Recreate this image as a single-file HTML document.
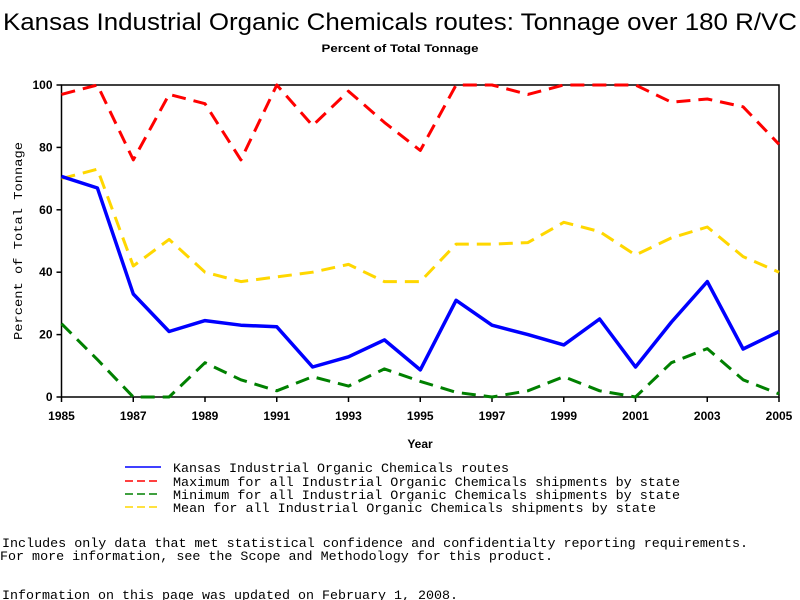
<!DOCTYPE html>
<html><head><meta charset="utf-8"><style>
body{margin:0;background:#fff;}
svg{display:block;}
text{font-family:"Liberation Mono",monospace;}
.sans{font-family:"Liberation Sans",sans-serif;}
</style></head><body>
<svg id="chart" width="800" height="600" xmlns="http://www.w3.org/2000/svg">
<text class="sans" x="3" y="30" font-size="24" textLength="794" lengthAdjust="spacingAndGlyphs">Kansas Industrial Organic Chemicals routes: Tonnage over 180 R/VC</text>
<text class="sans" x="400" y="52" font-size="11" font-weight="bold" text-anchor="middle" textLength="157" lengthAdjust="spacingAndGlyphs">Percent of Total Tonnage</text>
<g id="axes"></g>
<g id="series"></g>
<text class="sans" x="420" y="448" font-size="12" font-weight="bold" text-anchor="middle">Year</text>
<text transform="translate(22,241) rotate(-90)" font-size="12" text-anchor="middle" textLength="198" lengthAdjust="spacingAndGlyphs">Percent of Total Tonnage</text>
<g>
<line x1="125" y1="467" x2="161" y2="467" stroke="#0000ff" stroke-width="1.5"/>
<text x="173" y="472" font-size="13" textLength="336" lengthAdjust="spacingAndGlyphs">Kansas Industrial Organic Chemicals routes</text>
<line x1="125" y1="481" x2="161" y2="481" stroke="#ff0000" stroke-width="1.5" stroke-dasharray="8,4"/>
<text x="173" y="486" font-size="13" textLength="507" lengthAdjust="spacingAndGlyphs">Maximum for all Industrial Organic Chemicals shipments by state</text>
<line x1="125" y1="494" x2="161" y2="494" stroke="#008000" stroke-width="1.5" stroke-dasharray="8,4"/>
<text x="173" y="499" font-size="13" textLength="507" lengthAdjust="spacingAndGlyphs">Minimum for all Industrial Organic Chemicals shipments by state</text>
<line x1="125" y1="507" x2="161" y2="507" stroke="#ffd700" stroke-width="1.5" stroke-dasharray="8,4"/>
<text x="173" y="512" font-size="13" textLength="483" lengthAdjust="spacingAndGlyphs">Mean for all Industrial Organic Chemicals shipments by state</text>
</g>
<text x="2" y="547" font-size="13" textLength="746" lengthAdjust="spacingAndGlyphs">Includes only data that met statistical confidence and confidentialty reporting requirements.</text>
<text x="0" y="560" font-size="13" textLength="553" lengthAdjust="spacingAndGlyphs">For more information, see the Scope and Methodology for this product.</text>
<text x="2" y="599" font-size="13" textLength="456" lengthAdjust="spacingAndGlyphs">Information on this page was updated on February 1, 2008.</text>
</svg>
<script>
const years=[1985,1986,1987,1988,1989,1990,1991,1992,1993,1994,1995,1996,1997,1998,1999,2000,2001,2002,2003,2004,2005];
const kansasValues=[70.7,67,33,21,24.5,23,22.5,9.6,12.9,18.3,8.7,31,23,20,16.7,25,9.6,24,37,15.4,21];
const maxValues=[97,100,76,97,94,76,100,87,98,88,79,100,100,97,100,100,100,94.5,95.5,93,81];
const minValues=[23.5,12,0,0,11,5.5,2,6.5,3.5,9,5,1.5,0,2,6.5,2,0,11,15.5,5.5,1];
const meanValues=[70,73,42,50.5,40,37,38.5,40,42.5,37,37,49,49,49.5,56,53,45.5,51,54.5,45,40];
const yTicks=[0,20,40,60,80,100];
const xTicks=[1985,1987,1989,1991,1993,1995,1997,1999,2001,2003,2005];
const NS='http://www.w3.org/2000/svg';
const L=61.5,R=779,T=85,B=397;
const xs=y=>L+(y-1985)/(2005-1985)*(R-L);
const ys=v=>B-v/100*(B-T);
function mk(tag,attrs,parent){const e=document.createElementNS(NS,tag);for(const k in attrs)e.setAttribute(k,attrs[k]);parent.appendChild(e);return e;}
const axes=document.getElementById('axes');
const frame=mk('rect',{x:L,y:T,width:R-L,height:B-T,fill:'none',stroke:'#000','stroke-width':1.5},axes);


yTicks.forEach(v=>{
  const t=mk('line',{x1:L-5,x2:L,y1:ys(v),y2:ys(v),stroke:'#000','stroke-width':1.5},axes);
  
  
  const lb=mk('text',{x:L-9,y:ys(v)+4,'font-size':12,'font-weight':'bold','text-anchor':'end',class:'sans'},axes);
  lb.textContent=v;
  
  
});
xTicks.forEach(v=>{
  const t=mk('line',{x1:xs(v),x2:xs(v),y1:B,y2:B+5,stroke:'#000','stroke-width':1.5},axes);
  
  
  const lb=mk('text',{x:xs(v),y:B+23,'font-size':12,'font-weight':'bold','text-anchor':'middle',class:'sans'},axes);
  lb.textContent=v;
  
  
});
const series=document.getElementById('series');
function line(vals,color,dash,width,name){
  const pts=vals.map((v,i)=>xs(years[i]).toFixed(1)+','+ys(v).toFixed(1)).join(' ');
  const attrs={points:pts,fill:'none',stroke:color,'stroke-width':width,'stroke-linejoin':'round'};
  if(dash)attrs['stroke-dasharray']=dash;
  const p=mk('polyline',attrs,series);
  
  
}
line(maxValues,'#ff0000','14,8',3,'max-series-line');
line(meanValues,'#ffd700','14,8',3,'mean-series-line');
line(minValues,'#008000','14,8',3,'min-series-line');
line(kansasValues,'#0000ff',null,3.5,'kansas-series-line');
</script>
</body></html>
